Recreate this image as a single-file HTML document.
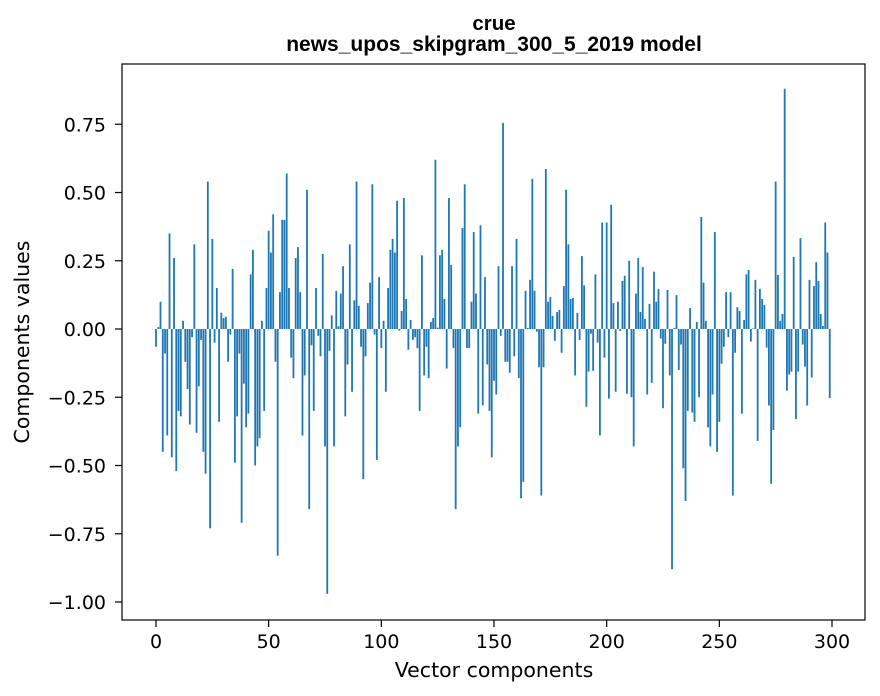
<!DOCTYPE html>
<html><head><meta charset="utf-8"><style>
body{margin:0;background:#fff;}
svg{display:block;font-family:"DejaVu Sans","Liberation Sans",sans-serif;}
</style></head><body>
<svg id="chart" width="880" height="696">
<text x="494" y="30" text-anchor="middle" font-size="20.5" font-weight="bold" font-family="Liberation Sans, sans-serif">crue</text>
<text x="494" y="51" text-anchor="middle" font-size="21" font-weight="bold" font-family="Liberation Sans, sans-serif">news_upos_skipgram_300_5_2019 model</text>
<g id="bars"></g>
<g id="yticks"></g>
<g id="xticks"></g>
<rect x="122" y="64" width="743" height="556" fill="none" stroke="#000" stroke-width="1.2"/>
<text x="494" y="677" text-anchor="middle" font-size="20.5">Vector components</text>
<text transform="translate(29,342) rotate(-90)" text-anchor="middle" font-size="20.5">Components values</text>
</svg>
<script>
const values = [
-0.065,0.007,0.10,-0.45,-0.09,-0.39,0.35,-0.47,0.26,-0.52,
-0.30,-0.32,0.03,-0.12,-0.22,-0.35,-0.03,0.31,-0.38,-0.21,
-0.04,-0.45,-0.53,0.54,-0.73,0.33,-0.05,0.15,-0.34,0.06,
0.04,0.045,-0.12,-0.02,0.22,-0.49,-0.32,-0.09,-0.71,-0.20,
-0.36,-0.31,0.20,0.29,-0.50,-0.43,-0.40,0.03,-0.30,0.15,
0.36,0.28,0.42,-0.12,-0.83,0.135,0.40,0.40,0.57,0.15,
-0.105,-0.18,0.26,0.30,0.135,-0.39,-0.17,0.51,-0.66,-0.06,
-0.30,0.15,-0.025,-0.10,0.275,-0.43,-0.97,-0.08,0.05,-0.43,
0.14,0.01,0.13,0.23,-0.32,-0.13,0.31,-0.23,0.105,0.54,
0.085,-0.065,-0.55,-0.10,0.095,0.17,0.53,-0.02,-0.48,0.19,
-0.07,0.03,-0.23,0.15,0.29,0.33,0.28,0.47,-0.006,0.066,
0.48,0.11,-0.076,0.033,-0.04,-0.03,-0.07,-0.30,0.27,-0.17,
-0.065,-0.18,0.026,0.04,0.62,0.005,0.27,0.29,0.11,-0.145,
0.48,0.235,-0.07,-0.66,-0.43,-0.36,0.37,0.53,-0.07,-0.07,
0.10,0.355,0.13,-0.31,0.38,-0.28,0.19,-0.13,-0.30,-0.47,
-0.19,-0.24,0.23,-0.025,0.755,-0.12,-0.12,-0.16,0.23,-0.10,
0.33,-0.18,-0.62,-0.56,0.14,0.004,0.18,0.55,0.14,-0.01,
-0.14,-0.61,-0.14,0.586,0.10,0.117,0.048,-0.043,0.062,0.07,
-0.087,0.157,0.51,0.31,0.11,0.114,-0.17,0.059,-0.04,0.267,
0.16,-0.285,-0.156,-0.017,-0.153,0.20,-0.05,-0.39,0.39,-0.105,
0.39,-0.255,0.455,0.095,-0.23,0.10,-0.007,0.176,0.195,-0.237,
0.25,-0.25,-0.43,0.13,0.26,0.062,0.227,0.037,-0.24,0.092,
-0.197,0.21,0.10,0.146,-0.035,-0.29,-0.054,0.143,-0.17,-0.88,
0.004,0.124,-0.15,-0.057,-0.51,-0.63,-0.30,0.077,-0.306,-0.34,
0.026,-0.25,0.41,0.17,0.03,-0.36,-0.43,-0.24,0.355,-0.45,
-0.34,-0.127,-0.065,0.135,-0.03,0.135,-0.61,-0.087,0.08,0.066,
-0.31,0.033,0.20,0.216,-0.046,0.002,0.18,-0.41,0.147,0.11,
0.088,-0.068,-0.28,-0.567,-0.37,0.54,0.198,0.03,0.055,0.88,
-0.226,-0.167,-0.156,0.264,-0.33,-0.156,0.333,-0.057,-0.138,-0.28,
0.18,-0.178,0.157,0.245,0.176,0.055,0.011,0.39,0.28,-0.253
];
const yTicks = [-1.00,-0.75,-0.50,-0.25,0.00,0.25,0.50,0.75];
const yTickLabels = ["\u22121.00","\u22120.75","\u22120.50","\u22120.25","0.00","0.25","0.50","0.75"];
const xTicks = [0,50,100,150,200,250,300];

const NS = "http://www.w3.org/2000/svg";
function xs(i){ return 156 + (i/300)*(832-156); }
function ys(v){ return 329 - v*273; }
const bars = document.getElementById('bars');
const bw = 0.8*(832-156)/300;
values.forEach((v,i)=>{
  const r = document.createElementNS(NS,'rect');
  const y0 = ys(0), y1 = ys(v);
  r.setAttribute('x', xs(i)-bw/2);
  r.setAttribute('width', bw);
  r.setAttribute('y', Math.min(y0,y1));
  r.setAttribute('height', Math.max(Math.abs(y1-y0),0.3));
  r.setAttribute('fill', '#1f77b4');
  
  
  bars.appendChild(r);
});
const yg = document.getElementById('yticks');
yTicks.forEach((t,k)=>{
  const y = ys(t);
  const l = document.createElementNS(NS,'line');
  l.setAttribute('x1',115); l.setAttribute('x2',122);
  l.setAttribute('y1',y); l.setAttribute('y2',y);
  l.setAttribute('stroke','#000'); l.setAttribute('stroke-width','1.2');
  
  
  yg.appendChild(l);
  const tx = document.createElementNS(NS,'text');
  tx.setAttribute('x',106); tx.setAttribute('y',y+7);
  tx.setAttribute('text-anchor','end'); tx.setAttribute('font-size','19');
  tx.textContent = yTickLabels[k];
  
  
  yg.appendChild(tx);
});
const xg = document.getElementById('xticks');
xTicks.forEach(t=>{
  const x = xs(t);
  const l = document.createElementNS(NS,'line');
  l.setAttribute('x1',x); l.setAttribute('x2',x);
  l.setAttribute('y1',620); l.setAttribute('y2',627);
  l.setAttribute('stroke','#000'); l.setAttribute('stroke-width','1.2');
  
  
  xg.appendChild(l);
  const tx = document.createElementNS(NS,'text');
  tx.setAttribute('x',x); tx.setAttribute('y',648);
  tx.setAttribute('text-anchor','middle'); tx.setAttribute('font-size','19');
  tx.textContent = String(t);
  
  
  xg.appendChild(tx);
});
</script>
</body></html>
